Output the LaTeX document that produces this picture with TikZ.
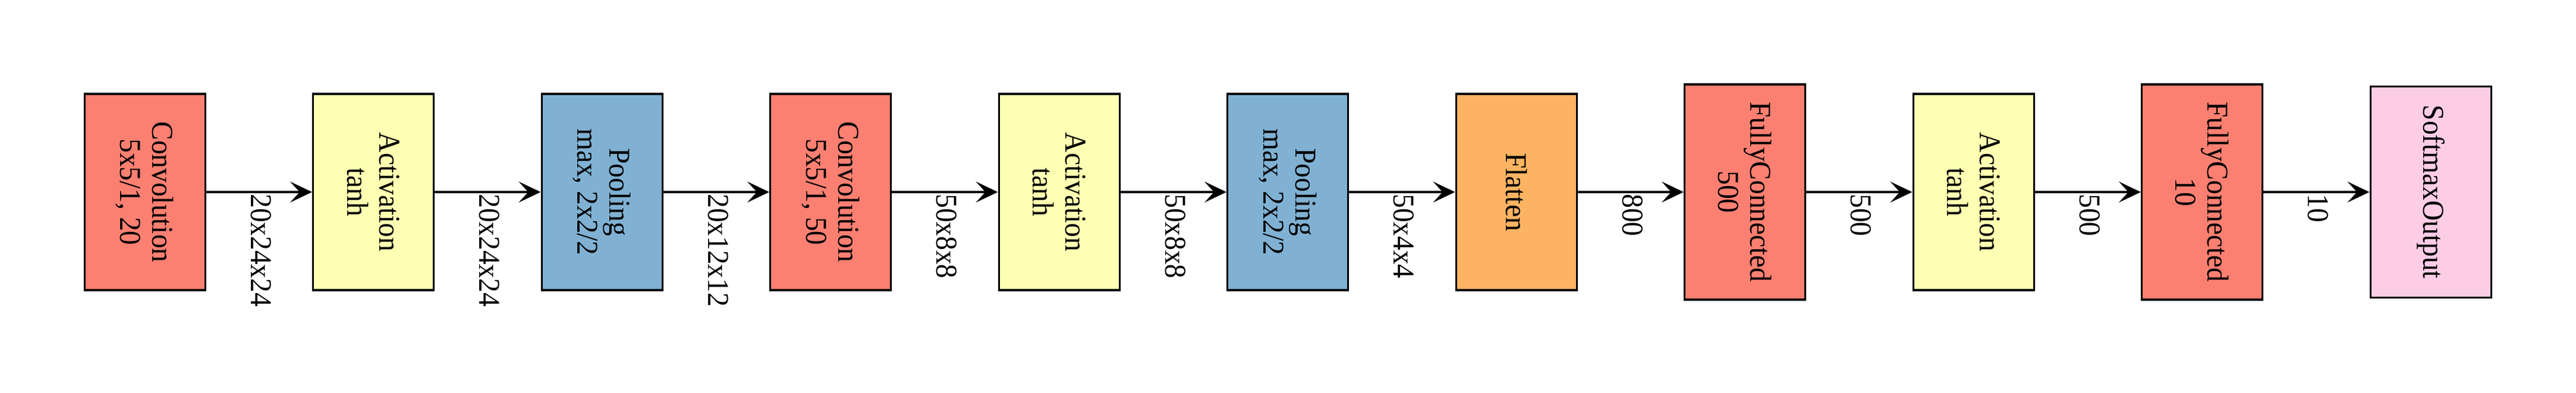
\documentclass[tikz,border=0pt]{standalone}
\usepackage{fontspec}
\setmainfont{Liberation Serif}[FakeStretch=0.93]
\usetikzlibrary{arrows.meta,positioning}
\definecolor{convRed}{HTML}{FB8072}
\definecolor{actYellow}{HTML}{FFFFB3}
\definecolor{poolBlue}{HTML}{80B1D3}
\definecolor{flatOrange}{HTML}{FDB462}
\definecolor{softPink}{HTML}{FCCDE5}
\tikzset{%
  >={Stealth[length=3.7mm,width=3.5mm,inset=1.6mm]},
  % Specifications for style of nodes:
          base/.style = {rectangle, draw=black, line width=0.9pt, rotate=-90,
                         minimum width=3.30cm, minimum height=2.03cm,
                         align=center, inner sep=0pt},
     convLayer/.style = {base, fill=convRed},
      actLayer/.style = {base, fill=actYellow},
     poolLayer/.style = {base, fill=poolBlue},
  flattenLayer/.style = {base, fill=flatOrange},
       fcLayer/.style = {base, minimum width=3.62cm, fill=convRed},
   outputLayer/.style = {base, minimum width=3.55cm, fill=softPink},
      dimLabel/.style = {xshift=0.3mm, rotate=-90, anchor=west, inner sep=0.5pt},
}

\begin{document}
\begin{tikzpicture}[node distance=3.845cm, line width=0.9pt,
    every node/.style={font=\fontsize{14.5}{15.4}\selectfont}]
  \useasboundingbox (0,0) rectangle (43.33,6.60);

  % Specification of nodes (position, etc.)
  \node (conv1)   [convLayer] at (2.436,3.37)      {Convolution\\5x5/1, 20};
  \node (act1)    [right of=conv1, actLayer]       {Activation\\tanh};
  \node (pool1)   [right of=act1, poolLayer]       {Pooling\\max, 2x2/2};
  \node (conv2)   [right of=pool1, convLayer]      {Convolution\\5x5/1, 50};
  \node (act2)    [right of=conv2, actLayer]       {Activation\\tanh};
  \node (pool2)   [right of=act2, poolLayer]       {Pooling\\max, 2x2/2};
  \node (flatten) [right of=pool2, flattenLayer]   {Flatten};
  \node (fc1)     [right of=flatten, fcLayer]      {FullyConnected\\500};
  \node (act3)    [right of=fc1, actLayer]         {Activation\\tanh};
  \node (fc2)     [right of=act3, fcLayer]         {FullyConnected\\10};
  \node (softmax) [right of=fc2, outputLayer]      {SoftmaxOutput};

  % Specification of lines between nodes specified above
  % with the output shape as label
  \draw[->] (conv1)   -- node[dimLabel] {20x24x24} (act1);
  \draw[->] (act1)    -- node[dimLabel] {20x24x24} (pool1);
  \draw[->] (pool1)   -- node[dimLabel] {20x12x12} (conv2);
  \draw[->] (conv2)   -- node[dimLabel] {50x8x8}   (act2);
  \draw[->] (act2)    -- node[dimLabel] {50x8x8}   (pool2);
  \draw[->] (pool2)   -- node[dimLabel] {50x4x4}   (flatten);
  \draw[->] (flatten) -- node[dimLabel] {800}      (fc1);
  \draw[->] (fc1)     -- node[dimLabel] {500}      (act3);
  \draw[->] (act3)    -- node[dimLabel] {500}      (fc2);
  \draw[->] (fc2)     -- node[dimLabel] {10}       (softmax);
\end{tikzpicture}
\end{document}
